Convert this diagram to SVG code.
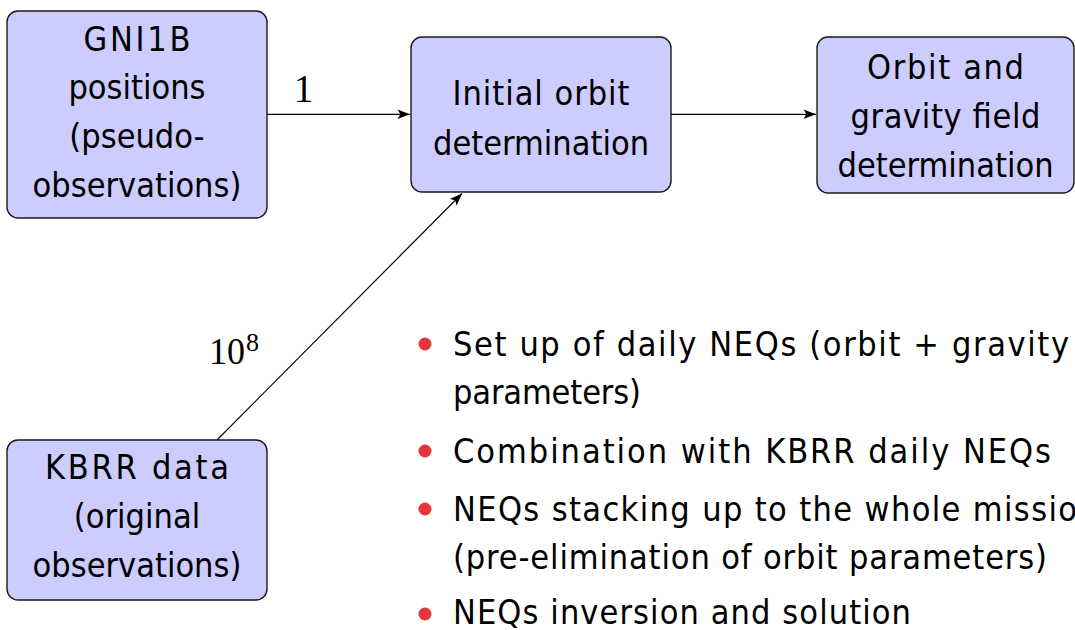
<svg xmlns="http://www.w3.org/2000/svg" width="1075" height="630" viewBox="0 0 1075 630">
  <style>
    .box { fill: #ccccff; stroke: #1a1a1a; stroke-width: 1.4; }
    .lbl { font-family: "DejaVu Sans Condensed", "DejaVu Sans", "Liberation Sans", sans-serif; font-stretch: condensed; font-size: 34px; fill: #000; text-anchor: middle; }
    .item { font-family: "DejaVu Sans Condensed", "DejaVu Sans", "Liberation Sans", sans-serif; font-stretch: condensed; font-size: 34px; fill: #000; }
    .math { font-family: "Liberation Serif", "DejaVu Serif", serif; fill: #000; }
    .edge { fill: none; stroke: #000; stroke-width: 1.2; }
    .dot { fill: #e7343f; }
  </style>
  <defs>
    <marker id="head" markerUnits="userSpaceOnUse" markerWidth="14" markerHeight="12" viewBox="-13 -6 14 12" refX="0" refY="0" orient="auto">
      <path d="M0,0 L-12.5,-4.8 L-9.5,0 L-12.5,4.8 Z" fill="#000"/>
    </marker>
  </defs>

  <rect width="1075" height="630" fill="#fff"/>

  <!-- connectors -->
  <g id="connectors">
    <line class="edge" x1="267" y1="114.3" x2="410" y2="114.3" marker-end="url(#head)"/>
    <line class="edge" x1="671" y1="114.3" x2="816" y2="114.3" marker-end="url(#head)"/>
    <line class="edge" x1="217" y1="440" x2="462" y2="193.5" marker-end="url(#head)"/>
    <text class="math" x="303.5" y="102" font-size="39" text-anchor="middle">1</text>
    <text class="math" x="209" y="364" font-size="37" textLength="36" lengthAdjust="spacingAndGlyphs">10</text>
    <text class="math" x="246" y="351" font-size="26">8</text>
  </g>

  <!-- nodes -->
  <g id="gni1b">
    <rect class="box" x="7" y="11" width="260" height="207" rx="11"/>
    <text class="lbl" x="137" y="51" textLength="107" lengthAdjust="spacing">GNI1B</text>
    <text class="lbl" x="137" y="99">positions</text>
    <text class="lbl" x="137" y="148">(pseudo-</text>
    <text class="lbl" x="137" y="197">observations)</text>
  </g>

  <g id="initial-orbit">
    <rect class="box" x="411" y="37" width="260" height="155" rx="11"/>
    <text class="lbl" x="541" y="105" textLength="177" lengthAdjust="spacing">Initial orbit</text>
    <text class="lbl" x="541" y="155">determination</text>
  </g>

  <g id="orbit-gravity">
    <rect class="box" x="817" y="37" width="257" height="156" rx="11"/>
    <text class="lbl" x="945.5" y="79" textLength="157" lengthAdjust="spacing">Orbit and</text>
    <text class="lbl" x="945.5" y="128" textLength="190" lengthAdjust="spacing">gravity field</text>
    <text class="lbl" x="945.5" y="177">determination</text>
  </g>

  <g id="kbrr">
    <rect class="box" x="7" y="440" width="260" height="160" rx="11"/>
    <text class="lbl" x="137" y="479" textLength="184" lengthAdjust="spacing">KBRR data</text>
    <text class="lbl" x="137" y="528">(original</text>
    <text class="lbl" x="137" y="577">observations)</text>
  </g>

  <!-- processing steps -->
  <g id="steps">
    <circle class="dot" cx="425" cy="344" r="6.5"/>
    <text class="item" x="453" y="356" textLength="616" lengthAdjust="spacing">Set up of daily NEQs (orbit + gravity</text>
    <text class="item" x="453" y="404" textLength="188" lengthAdjust="spacing">parameters)</text>

    <circle class="dot" cx="425" cy="451" r="6.5"/>
    <text class="item" x="453" y="463" textLength="598" lengthAdjust="spacing">Combination with KBRR daily NEQs</text>

    <circle class="dot" cx="425" cy="509" r="6.5"/>
    <text class="item" x="453" y="521" textLength="624" lengthAdjust="spacing">NEQs stacking up to the whole missio</text>
    <text class="item" x="453" y="569" textLength="594" lengthAdjust="spacing">(pre-elimination of orbit parameters)</text>

    <circle class="dot" cx="425" cy="614" r="6.5"/>
    <text class="item" x="453" y="624" textLength="458" lengthAdjust="spacing">NEQs inversion and solution</text>
  </g>
</svg>
